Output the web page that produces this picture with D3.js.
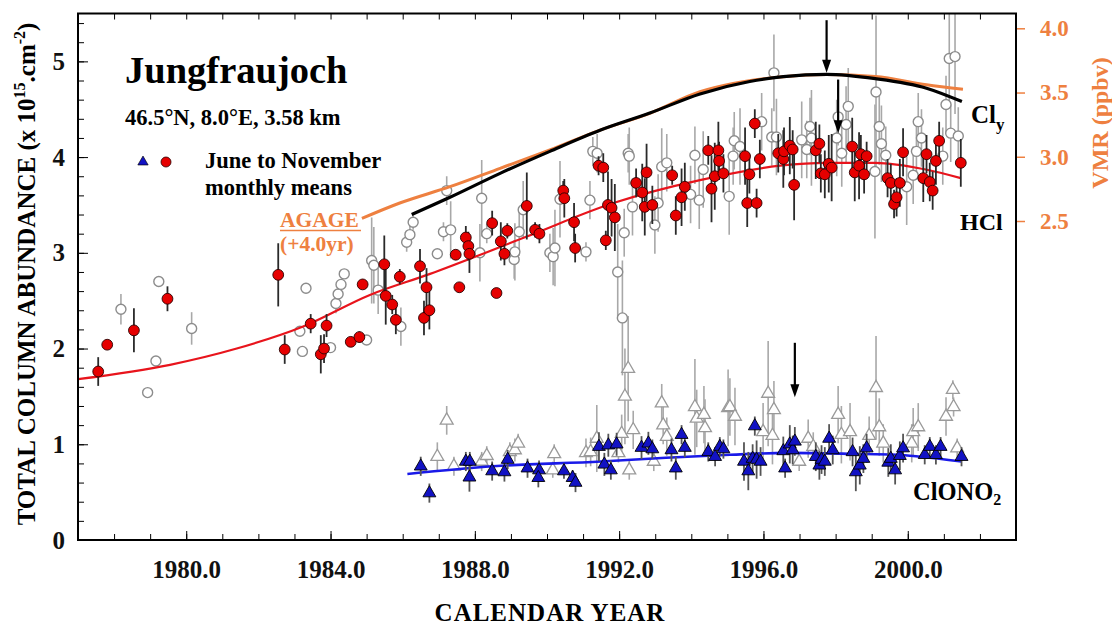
<!DOCTYPE html>
<html><head><meta charset="utf-8">
<script src="https://cdn.jsdelivr.net/npm/d3@7"></script>
<style>
html,body{margin:0;padding:0;background:#fff;}
svg{display:block;font-family:"Liberation Serif","Times New Roman",serif;font-weight:bold;}
</style></head>
<body><svg id="c" width="1112" height="625"></svg>
<script>
// ---------- data ----------
// HCl, June-November monthly means: [year, column (1e15 cm-2), error]
const hclJunNov = [
[1977.56,1.76,0.15],[1977.81,2.04,0.04],[1978.55,2.19,0.23],[1979.48,2.52,0.13],
[1982.55,2.77,0.33],[1982.73,1.99,0.15],[1983.45,2.26,0.10],[1983.73,1.94,0.20],
[1983.82,2.00,0.15],[1983.89,2.24,0.12],[1984.56,2.07,0.05],[1984.80,2.12,0.06],
[1984.89,2.67,0.05],[1985.49,2.88,0.30],[1985.53,2.55,0.30],[1985.71,2.46,0.10],
[1985.81,2.30,0.15],[1985.92,2.75,0.08],[1986.48,2.86,0.18],[1986.59,2.32,0.18],
[1986.66,2.64,0.20],[1986.74,2.40,0.20],[1987.47,2.98,0.05],[1987.57,2.64,0.05],
[1987.75,3.16,0.12],[1987.82,3.07,0.15],[1987.85,2.99,0.20],[1988.48,3.31,0.13],
[1988.60,2.58,0.05],[1988.72,3.12,0.20],[1988.82,2.99,0.12],[1988.90,3.23,0.08],
[1989.44,3.49,0.35],[1989.67,3.24,0.08],[1989.79,3.20,0.10],[1990.45,3.65,0.10],
[1990.48,3.57,0.20],[1990.75,3.32,0.20],[1990.78,3.05,0.15],[1991.43,3.91,0.10],
[1991.56,3.89,0.15],[1991.63,3.13,0.10],[1991.69,3.50,0.35],[1991.79,3.47,0.30],
[1991.88,3.37,0.35],[1992.47,3.73,0.15],[1992.64,3.63,0.30],[1992.71,3.48,0.30],
[1992.76,3.84,0.30],[1992.92,3.50,0.20],[1993.47,3.81,0.10],[1993.57,3.39,0.20],
[1993.73,3.58,0.30],[1993.82,3.69,0.25],[1994.47,4.07,0.15],[1994.56,3.67,0.35],
[1994.65,3.80,0.35],[1994.75,4.07,0.30],[1994.77,3.96,0.20],[1994.89,3.83,0.20],
[1995.49,4.01,0.30],[1995.55,3.52,0.25],[1995.61,3.82,0.20],[1995.76,4.35,0.15],
[1995.81,3.52,0.15],[1995.90,3.98,0.20],[1996.41,4.04,0.20],[1996.55,3.98,0.30],
[1996.57,4.06,0.25],[1996.73,4.12,0.30],[1996.81,4.08,0.20],[1996.85,3.71,0.37],
[1997.45,4.07,0.30],[1997.55,4.14,0.20],[1997.59,3.83,0.20],[1997.70,3.82,0.25],
[1997.81,3.93,0.30],[1997.89,3.89,0.35],[1998.46,4.11,0.30],[1998.53,3.84,0.30],
[1998.65,3.91,0.35],[1998.70,4.03,0.20],[1998.79,3.82,0.20],[1998.86,4.01,0.15],
[1999.44,3.78,0.20],[1999.53,3.73,0.20],[1999.62,3.51,0.15],[1999.69,3.58,0.20],
[1999.78,3.73,0.25],[1999.87,4.05,0.25],[2000.43,3.78,0.25],[2000.52,4.03,0.20],
[2000.61,3.74,0.20],[2000.69,3.65,0.20],[2000.78,3.96,0.25],[2000.87,4.17,0.20],
[2001.47,3.94,0.25]
];
// HCl, other months (open circles)
const hclOther = [
[1978.19,2.41,0.16],[1978.93,1.54,0.04],[1979.16,1.87,0.04],[1979.24,2.70,0.04],
[1980.15,2.21,0.17],[1983.15,2.18,0.04],[1983.22,1.97,0.04],[1983.32,2.63,0.04],
[1984.00,2.01,0.04],[1984.15,2.47,0.10],[1984.21,2.57,0.06],[1984.29,2.67,0.05],
[1984.38,2.78,0.05],[1985.00,2.09,0.04],[1985.14,2.92,0.45],[1985.20,2.87,0.40],
[1985.32,2.61,0.25],[1985.95,2.23,0.20],[1986.11,3.11,0.10],[1986.20,3.19,0.10],
[1986.29,3.32,0.08],[1986.96,2.99,0.04],[1987.13,3.22,0.10],[1987.22,3.65,0.15],
[1987.33,3.24,0.30],[1988.14,3.00,0.30],[1988.19,3.57,0.40],[1988.33,3.20,0.10],
[1989.09,2.93,0.20],[1989.11,3.01,0.30],[1989.23,3.22,0.25],[1989.34,3.45,0.30],
[1990.08,3.00,0.20],[1990.17,2.96,0.30],[1990.22,3.05,0.40],[1990.36,3.56,0.40],
[1991.08,3.01,0.10],[1991.19,3.55,0.20],[1991.27,4.06,0.15],[1991.39,4.04,0.20],
[1991.96,2.80,0.50],[1992.09,2.32,0.60],[1992.14,3.21,0.25],[1992.25,4.04,0.20],
[1992.28,4.01,0.30],[1992.37,3.48,0.30],[1992.99,3.29,0.30],[1993.08,3.52,0.30],
[1993.18,3.90,0.40],[1993.32,3.94,0.30],[1993.98,3.61,0.30],[1994.10,4.02,0.30],
[1994.22,3.55,0.30],[1994.33,3.87,0.40],[1995.05,3.59,0.40],[1995.16,4.01,0.30],
[1995.19,4.17,0.30],[1995.35,4.11,0.40],[1995.95,4.37,0.30],[1996.23,4.21,0.30],
[1996.29,4.88,0.40],[1996.36,4.21,0.40],[1997.06,4.18,0.40],[1997.20,4.08,0.30],
[1997.29,4.32,0.30],[1997.33,4.20,0.50],[1998.03,4.20,0.40],[1998.07,4.42,0.30],
[1998.17,4.04,0.35],[1998.29,4.34,0.40],[1998.35,4.53,0.40],[1999.09,3.85,0.70],
[1999.12,4.68,0.80],[1999.21,4.32,0.40],[1999.27,4.14,0.40],[1999.39,4.02,0.30],
[1999.97,3.69,0.40],[2000.15,3.81,0.30],[2000.24,4.06,0.30],[2000.29,4.37,0.30],
[2000.38,4.20,0.30],[2000.97,4.01,0.30],[2001.06,4.55,0.30],[2001.15,5.03,0.50],
[2001.19,4.25,0.30],[2001.31,5.05,0.60],[2001.40,4.22,0.30]
];
// ClONO2, June-November monthly means (filled triangles)
const clonoJunNov = [
[1986.50,0.77,0.10],[1986.74,0.49,0.10],[1987.75,0.82,0.10],[1987.86,0.82,0.10],
[1987.85,0.655,0.15],[1988.48,0.72,0.10],[1988.82,0.71,0.10],[1988.91,0.84,0.10],
[1989.46,0.75,0.10],[1989.78,0.73,0.10],[1989.76,0.65,0.10],[1990.47,0.72,0.08],
[1990.71,0.65,0.08],[1990.79,0.60,0.10],[1991.44,0.975,0.15],[1991.59,0.79,0.12],
[1991.70,0.99,0.12],[1991.77,0.73,0.10],[1991.93,1.00,0.12],[1992.62,0.965,0.12],
[1992.81,1.01,0.12],[1992.92,0.95,0.10],[1993.45,0.94,0.12],[1993.57,0.75,0.12],
[1993.73,1.10,0.10],[1993.82,0.965,0.10],[1994.47,0.92,0.10],[1994.66,0.87,0.10],
[1994.79,0.975,0.10],[1994.89,0.95,0.10],[1995.46,0.82,0.20],[1995.58,0.72,0.20],
[1995.70,0.85,0.15],[1995.76,1.19,0.10],[1995.81,0.84,0.20],[1995.92,0.82,0.15],
[1996.55,0.93,0.15],[1996.60,0.75,0.10],[1996.73,1.00,0.20],[1996.81,0.94,0.15],
[1996.87,1.03,0.15],[1997.45,0.87,0.15],[1997.55,0.78,0.15],[1997.61,0.84,0.15],
[1997.70,0.82,0.15],[1997.82,1.06,0.15],[1997.92,0.94,0.15],[1998.47,0.92,0.15],
[1998.56,0.71,0.20],[1998.67,0.78,0.20],[1998.77,0.85,0.15],[1998.86,0.96,0.15],
[1999.46,0.81,0.15],[1999.53,0.85,0.15],[1999.65,0.73,0.15],[1999.78,0.88,0.15],
[1999.87,0.96,0.15],[2000.47,0.89,0.10],[2000.61,0.975,0.10],[2000.78,0.89,0.10],
[2000.91,0.975,0.10],[2001.49,0.87,0.10]
];
// ClONO2, other months (open triangles)
const clonoOther = [
[1986.96,0.87,0.15],[1987.22,1.25,0.15],[1987.42,0.77,0.10],[1988.19,0.82,0.10],
[1988.33,0.88,0.10],[1988.97,0.92,0.10],[1989.11,0.94,0.12],[1989.20,1.01,0.10],
[1990.16,0.73,0.08],[1990.20,0.90,0.10],[1991.08,0.91,0.15],[1991.21,0.92,0.15],
[1991.38,1.06,0.35],[1991.98,0.91,0.10],[1992.07,1.11,0.20],[1992.16,1.50,0.50],
[1992.25,1.79,0.55],[1992.28,0.73,0.10],[1992.39,1.15,0.20],[1992.96,0.82,0.10],
[1993.18,1.43,0.20],[1993.22,1.20,0.20],[1993.32,1.08,0.20],[1994.10,1.39,0.50],
[1994.15,1.27,0.30],[1994.35,1.31,0.30],[1994.38,1.17,0.30],[1995.02,1.38,0.40],
[1995.07,1.39,0.30],[1995.21,1.29,0.30],[1995.99,1.13,0.30],[1996.13,1.53,0.55],
[1996.25,1.09,0.30],[1996.29,1.36,0.30],[1996.99,0.82,0.10],[1997.24,1.06,0.20],
[1997.38,0.975,0.15],[1998.07,1.31,0.30],[1998.16,1.10,0.30],[1998.40,1.13,0.30],
[1998.93,1.09,0.20],[1999.12,1.59,0.54],[1999.21,1.18,0.30],[1999.32,1.01,0.20],
[2000.11,1.01,0.20],[2000.15,1.13,0.25],[2000.29,1.18,0.25],[2001.06,1.29,0.20],
[2001.25,1.57,0.10],[2001.27,1.39,0.10],[2001.37,0.96,0.10]
];
// fitted curves [year, value]
const hclFit = [[1977,1.68],[1979.55,1.83],[1981.4,2.0],[1983.24,2.23],[1985.09,2.56],[1986.76,2.78],
[1989.44,3.17],[1991.84,3.52],[1994.24,3.76],[1996.46,3.91],[1997.75,3.94],[1999.1,3.94],[2000.5,3.87],[2001.47,3.78]];
const clyFit = [[1986.25,3.40],[1987.31,3.58],[1988.70,3.83],[1990.08,4.06],[1991.47,4.28],[1992.85,4.46],
[1994.24,4.66],[1995.62,4.79],[1996.55,4.84],[1997.75,4.865],[1999.1,4.82],[2000.52,4.72],[2001.5,4.58]];
const clonoFit = [[1986.13,0.69],[1988.5,0.77],[1991.5,0.82],[1993.3,0.86],[1995.07,0.89],[1996.64,0.91],
[1998.49,0.90],[1999.69,0.89],[2000.34,0.87],[2001.49,0.82]];
// AGAGE total chlorine (ppbv, right axis), shifted +4.0 yr
const agage = [[1984.87,2.52],[1985.92,2.64],[1987.31,2.767],[1988.70,2.91],[1990.08,3.053],[1991.47,3.208],
[1992.85,3.338],[1994.24,3.506],[1995.16,3.57],[1996.55,3.623],[1997.75,3.64],[1999.1,3.625],[2000.52,3.56],[2001.53,3.525]];
// arrows marking maxima: [year, top value, tip value]
const arrows = [[1997.75,5.43,4.88],[1998.07,4.81,4.25],[1996.87,2.06,1.49]];
// axis ticks
const yearTicks = d3.range(1977,2004,1);
const yearLabels = [1980,1984,1988,1992,1996,2000];
const leftLabels = [0,1,2,3,4,5];
const leftMinor = d3.range(0,5.51,0.2);
const rightLabels = [2.5,3.0,3.5,4.0];

// ---------- drawing ----------
const svg = d3.select("#c");
const L=78,R=1016,T=13.5,B=540;
const x = d3.scaleLinear().domain([1977,2003]).range([L,R]);
const y = d3.scaleLinear().domain([0,5.5]).range([B,T]);
const yR = d3.scaleLinear().domain([2.5,4.0]).range([221,28.3]);
const ORANGE="#ee8040";

svg.append("defs").append("clipPath").attr("id","clip")
  .append("rect").attr("x",L).attr("y",T).attr("width",R-L).attr("height",B-T);
const plot = svg.append("g").attr("clip-path","url(#clip)");

function errBars(data,color,w){
  plot.append("g").selectAll("line").data(data).join("line")
    .attr("x1",d=>x(d[0])).attr("x2",d=>x(d[0]))
    .attr("y1",d=>y(d[1]-d[2])).attr("y2",d=>y(d[1]+d[2]))
    .attr("stroke",color).attr("stroke-width",w);
}
const tri = d3.symbol().type(d3.symbolTriangle).size(72);

// open (other months) markers
errBars(hclOther,"#a8a8a8",1.6);
errBars(clonoOther,"#a8a8a8",1.6);
plot.append("g").selectAll("circle").data(hclOther).join("circle")
  .attr("cx",d=>x(d[0])).attr("cy",d=>y(d[1])).attr("r",5)
  .attr("fill","#fff").attr("stroke","#8c8c8c").attr("stroke-width",1.4);
plot.append("g").selectAll("path").data(clonoOther).join("path")
  .attr("d",tri).attr("transform",d=>`translate(${x(d[0])},${y(d[1])})`)
  .attr("fill","#fff").attr("stroke","#9a9a9a").attr("stroke-width",1.3);

// curves
const lineL = d3.line().x(d=>x(d[0])).y(d=>y(d[1])).curve(d3.curveMonotoneX);
const lineR = d3.line().x(d=>x(d[0])).y(d=>yR(d[1])).curve(d3.curveMonotoneX);
plot.append("path").attr("d",lineR(agage)).attr("fill","none").attr("stroke",ORANGE).attr("stroke-width",3);
plot.append("path").attr("d",lineL(clyFit)).attr("fill","none").attr("stroke","#000").attr("stroke-width",3.2);
plot.append("path").attr("d",lineL(hclFit)).attr("fill","none").attr("stroke","#e8141c").attr("stroke-width",2.2);
plot.append("path").attr("d",lineL(clonoFit)).attr("fill","none").attr("stroke","#1a1ae8").attr("stroke-width",2.6);

// filled (June-November) markers
errBars(hclJunNov,"#2a2a2a",1.8);
errBars(clonoJunNov,"#555",1.8);
plot.append("g").selectAll("circle").data(hclJunNov).join("circle")
  .attr("cx",d=>x(d[0])).attr("cy",d=>y(d[1])).attr("r",5.4)
  .attr("fill","#e60000").attr("stroke","#2a0000").attr("stroke-width",0.9);
plot.append("g").selectAll("path").data(clonoJunNov).join("path")
  .attr("d",tri).attr("transform",d=>`translate(${x(d[0])},${y(d[1])})`)
  .attr("fill","#1212c4").attr("stroke","#000").attr("stroke-width",0.9);

// arrows
const ag = svg.append("g");
arrows.forEach(a=>{
  const ax=x(a[0]), y0=y(a[1]), y1=y(a[2]);
  ag.append("line").attr("x1",ax).attr("x2",ax).attr("y1",y0).attr("y2",y1-8)
    .attr("stroke","#000").attr("stroke-width",2.2);
  ag.append("path").attr("d",`M${ax-4.5},${y1-13}L${ax+4.5},${y1-13}L${ax},${y1}Z`).attr("fill","#000");
});

// axes
function clean(g){ g.select(".domain").remove(); }
svg.append("g").attr("transform",`translate(0,${B})`)
  .call(d3.axisBottom(x).tickValues(yearTicks).tickSize(-6).tickFormat("")).call(clean);
svg.append("g").attr("transform",`translate(0,${B})`)
  .call(d3.axisBottom(x).tickValues(yearLabels).tickSize(-9).tickPadding(20).tickFormat(d=>d.toFixed(1)))
  .call(clean).selectAll("text").attr("font-size",25).attr("font-family","Liberation Serif").attr("font-weight","bold").attr("fill","#111");
svg.append("g").attr("transform",`translate(0,${T})`)
  .call(d3.axisTop(x).tickValues(yearTicks).tickSize(-6).tickFormat("")).call(clean);
svg.append("g").attr("transform",`translate(${L},0)`)
  .call(d3.axisLeft(y).tickValues(leftMinor).tickSize(-6).tickFormat("")).call(clean);
svg.append("g").attr("transform",`translate(${L},0)`)
  .call(d3.axisLeft(y).tickValues(leftLabels).tickSize(-10).tickPadding(13).tickFormat(d3.format("d")))
  .call(clean).selectAll("text").attr("font-size",25).attr("font-family","Liberation Serif").attr("font-weight","bold").attr("fill","#111");
const ra = svg.append("g").attr("transform",`translate(${R},0)`)
  .call(d3.axisRight(yR).tickValues(rightLabels).tickSize(9).tickPadding(15).tickFormat(d3.format(".1f")))
  .call(clean);
ra.selectAll("line").attr("stroke",ORANGE).attr("stroke-width",1.5);
ra.selectAll("text").attr("font-size",23).attr("font-family","Liberation Serif").attr("font-weight","bold").attr("fill",ORANGE);

// frame
svg.append("rect").attr("x",L).attr("y",T).attr("width",R-L).attr("height",B-T)
  .attr("fill","none").attr("stroke","#000").attr("stroke-width",2);

// texts
const txt = (s,xx,yy,size,fill="#000")=>svg.append("text").attr("x",xx).attr("y",yy)
  .attr("font-size",size).attr("fill",fill).text(s);
txt("Jungfraujoch",125,83,38.5);
txt("46.5°N, 8.0°E, 3.58 km",125,125,22.5);
txt("June to November",205,168,22.5);
txt("monthly means",205,195,22.5);
svg.append("path").attr("d",tri).attr("transform","translate(143,162) scale(0.8)")
  .attr("fill","#1212c4").attr("stroke","#000").attr("stroke-width",0.8);
svg.append("circle").attr("cx",166).attr("cy",162).attr("r",5).attr("fill","#e60000").attr("stroke","#2a0000").attr("stroke-width",0.8);
txt("AGAGE",280,227,21.5,ORANGE);
svg.append("line").attr("x1",280).attr("x2",361).attr("y1",230.5).attr("y2",230.5).attr("stroke",ORANGE).attr("stroke-width",1.6);
txt("(+4.0yr)",280,251,21.5,ORANGE);

const cly = txt("Cl",971,123,25); cly.append("tspan").attr("font-size",17).attr("dy",7).text("y");
txt("HCl",960,230,24);
const cn = txt("ClONO",913,500,24.5); cn.append("tspan").attr("font-size",16).attr("dy",5).text("2");

// axis titles
svg.append("text").attr("x",550).attr("y",621).attr("text-anchor","middle").attr("font-size",25)
  .attr("letter-spacing",1).text("CALENDAR YEAR");
const yl = svg.append("text").attr("transform","translate(35,274) rotate(-90)").attr("text-anchor","middle").attr("font-size",25);
yl.append("tspan").text("TOTAL COLUMN ABUNDANCE (x 10");
yl.append("tspan").attr("font-size",16).attr("dy",-10).text("15");
yl.append("tspan").attr("dy",10).text(".cm");
yl.append("tspan").attr("font-size",16).attr("dy",-10).text("-2");
yl.append("tspan").attr("dy",10).text(")");
svg.append("text").attr("transform","translate(1108,123) rotate(-90)").attr("text-anchor","middle")
  .attr("font-size",24).attr("fill",ORANGE).text("VMR (ppbv)");
</script></body></html>
